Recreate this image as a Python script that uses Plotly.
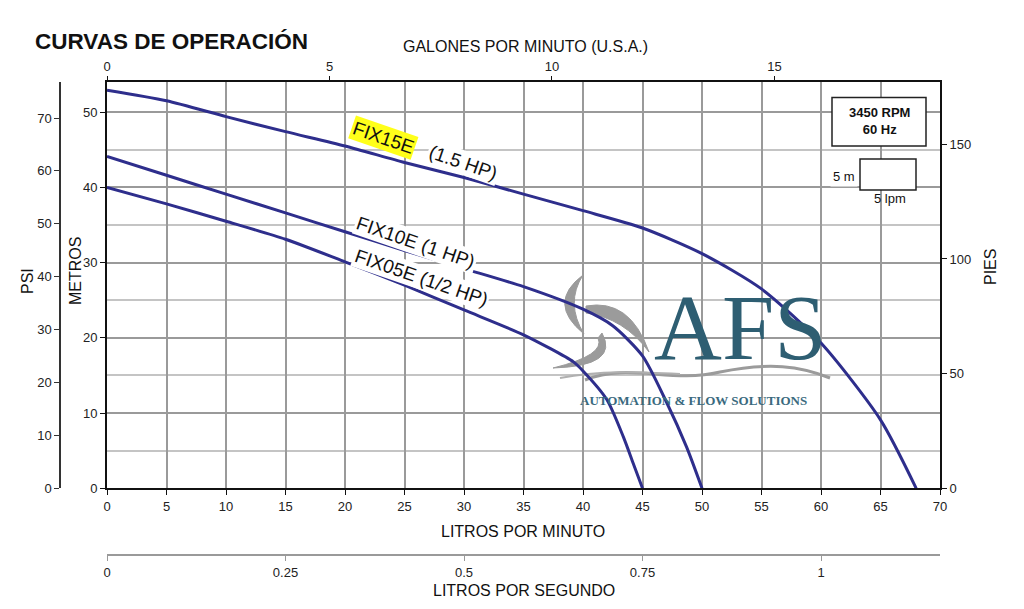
import plotly.graph_objects as go

# ---------------- data ----------------
lpm_15 = [0, 5, 10, 15, 20, 25, 30, 35, 40, 45, 50, 55, 60, 65, 68]
m_15 = [52.9, 51.5, 49.4, 47.4, 45.5, 43.3, 41.3, 39.1, 36.9, 34.6, 31.2, 26.5, 19.3, 9.1, 0]

lpm_10 = [0, 5, 10, 15, 20, 25, 30, 35, 40, 42.5, 45, 47, 48.7, 50]
m_10 = [44.1, 41.6, 39.1, 36.6, 34.1, 31.6, 29.2, 26.8, 23.8, 21.6, 17.6, 11.5, 5.5, 0]

lpm_05 = [0, 5, 10, 15, 20, 25, 30, 35, 39.2, 40, 42, 43.4, 44.2, 45]
m_05 = [40.0, 37.8, 35.5, 33.1, 30.1, 27.0, 23.7, 20.4, 16.8, 15.6, 11.8, 6.8, 3.4, 0]

lpm_ticks = list(range(0, 75, 5))
gpm_ticks = [0, 5, 10, 15]
lps_ticks = [0, 0.25, 0.5, 0.75, 1]
lps_labels = ["0", "0.25", "0.5", "0.75", "1"]
m_ticks = [0, 10, 20, 30, 40, 50]
m_minor = [5, 15, 25, 35, 45]
psi_ticks = [0, 10, 20, 30, 40, 50, 60, 70]
ft_ticks = [0, 50, 100, 150]

LPM_MAX = 70
M_MAX = 54
GPM_MAX = 18.72
LPS_MAX = LPM_MAX / 60
FT_PER_M = 3.28084
PSI_PER_M = 1.42233

# ---------------- layout geometry ----------------
# the page body adds an 8px offset, so the figure is laid out 8px up/left
OFF = 8
W, H = 1024 - OFF, 609 - OFF
ML, MR, MT, MB = 12, 84, 74, 22
PW, PH = W - ML - MR, H - MT - MB

def px(xp):
    return (xp - OFF - ML) / PW

def py(yp):
    return (H - MB - (yp - OFF)) / PH

XDOM = [px(107), 1]
YDOM = [py(488.3), 1]

# pixel -> data (for decorative logo shapes and label placement)
def dx(xp):
    return (xp - 107) / ((940 - 107) / LPM_MAX)

def dy(yp):
    return (488.3 - yp) / ((488.3 - 82) / M_MAX)

def path(cmds):
    out = []
    for c in cmds:
        if c[0] == "Z":
            out.append("Z")
        else:
            nums = c[1:]
            pts = []
            for i in range(0, len(nums), 2):
                pts.append(f"{dx(nums[i]):.3f},{dy(nums[i+1]):.3f}")
            out.append(c[0] + " " + " ".join(pts))
    return " ".join(out)

CURVE = "#2E2E8C"
GRID = "#9a9a9a"
GRID_MINOR = "#c4c4c4"
TICKFONT = dict(family="Liberation Sans Narrow, Arial Narrow, Liberation Sans", size=13, color="#222")
TITLEFONT = dict(family="Liberation Sans, Arial", size=16, color="#111")
LABELFONT = dict(family="Liberation Sans, Arial", size=19, color="#111")

fig = go.Figure()
for xs, ys in [(lpm_15, m_15), (lpm_10, m_10), (lpm_05, m_05)]:
    fig.add_trace(go.Scatter(x=xs, y=ys, mode="lines",
                             line=dict(color=CURVE, width=3, shape="spline", smoothing=0.7),
                             hoverinfo="skip", showlegend=False))

# empty traces so that the secondary unit axes are drawn
for xa, ya in [("x2", "y"), ("x3", "y"), ("x", "y2"), ("x", "y3")]:
    fig.add_trace(go.Scatter(x=[], y=[], xaxis=xa, yaxis=ya, mode="lines",
                             hoverinfo="skip", showlegend=False))

fig.update_layout(
    width=W, height=H,
    margin=dict(l=ML, r=MR, t=MT, b=MB, autoexpand=False),
    paper_bgcolor="white", plot_bgcolor="white",
    showlegend=False,
    xaxis=dict(domain=XDOM, range=[0, LPM_MAX], anchor="y", side="bottom",
               tickvals=lpm_ticks, ticks="outside", ticklen=5, tickcolor="#111",
               showline=True, linecolor="#111", linewidth=2, mirror=True,
               showgrid=True, gridcolor=GRID, gridwidth=1.6, zeroline=False,
               tickfont=TICKFONT),
    xaxis2=dict(domain=XDOM, range=[0, GPM_MAX], overlaying="x", anchor="y", side="top",
                tickvals=gpm_ticks, ticks="outside", ticklen=5, tickcolor="#111",
                showline=False, showgrid=False, zeroline=False, tickfont=TICKFONT),
    xaxis3=dict(domain=XDOM, range=[0, LPS_MAX], overlaying="x", anchor="free",
                position=py(555), side="bottom",
                tickvals=lps_ticks, ticktext=lps_labels, ticks="outside", ticklen=5,
                tickcolor="#999", showline=True, linecolor="#9a9a9a", linewidth=2,
                showgrid=False, zeroline=False, tickfont=TICKFONT),
    yaxis=dict(domain=YDOM, range=[0, M_MAX], anchor="x", side="left",
               tickvals=m_ticks, ticks="outside", ticklen=5, tickcolor="#111",
               showline=True, linecolor="#111", linewidth=2, mirror=True,
               showgrid=True, gridcolor=GRID, gridwidth=1.6, zeroline=False,
               minor=dict(tickvals=m_minor, showgrid=True, gridcolor=GRID_MINOR,
                          gridwidth=1.6, ticks=""),
               tickfont=TICKFONT),
    yaxis2=dict(domain=YDOM, range=[0, M_MAX * FT_PER_M], overlaying="y", anchor="x",
                side="right", tickvals=ft_ticks, ticks="outside", ticklen=6,
                tickcolor="#111", showline=False, showgrid=False, zeroline=False,
                tickfont=TICKFONT),
    yaxis3=dict(domain=YDOM, range=[0, M_MAX * PSI_PER_M], overlaying="y", anchor="free",
                position=px(60), side="left", tickvals=psi_ticks, ticks="outside",
                ticklen=5, tickcolor="#333", showline=True, linecolor="#333",
                linewidth=1.5, showgrid=False, zeroline=False, tickfont=TICKFONT),
)

ann = []
def pa(text, xp, yp, font, xanchor="center", **kw):
    d = dict(text=text, x=px(xp), y=py(yp), xref="paper", yref="paper",
             showarrow=False, font=font, xanchor=xanchor, yanchor="middle")
    d.update(kw)
    ann.append(d)

pa("<b>CURVAS DE OPERACIÓN</b>", 33, 42,
   dict(family="Liberation Sans, Arial", size=22.5, color="#111"), xanchor="left")
pa("GALONES POR MINUTO (U.S.A.)", 525, 47, TITLEFONT)
pa("LITROS POR MINUTO", 523, 531, TITLEFONT)
pa("LITROS POR SEGUNDO", 524, 590, TITLEFONT)
pa("PSI", 27, 281, TITLEFONT, textangle=-90)
pa("METROS", 75, 271, TITLEFONT, textangle=-90)
pa("PIES", 990, 267, TITLEFONT, textangle=-90)

# info boxes
pa("<b>3450 RPM<br>60 Hz</b>", 879, 121,
   dict(family="Liberation Sans, Arial", size=13, color="#111"))
pa("5 m", 858, 176, dict(family="Liberation Sans, Arial", size=13, color="#111"),
   xanchor="right", bgcolor="white", borderpad=2)
pa("5 lpm", 890, 198, dict(family="Liberation Sans, Arial", size=13, color="#111"))

# logo text
pa("AFS", 740, 327, dict(family="Liberation Serif, Times New Roman", size=94, color="#2E5E72"))
pa("<b>AUTOMATION &amp; FLOW SOLUTIONS</b>", 693, 400,
   dict(family="Liberation Serif, Times New Roman", size=13, color="#3A6A7E"))

# curve labels (data coords)
def da(text, x, y, **kw):
    d = dict(text=text, x=x, y=y, xref="x", yref="y", showarrow=False,
             font=LABELFONT, textangle=19, borderpad=1,
             xanchor="center", yanchor="middle")
    d.update(kw)
    ann.append(d)

da("FIX15E", dx(383), dy(137), bgcolor="#FFFF1A")
da("(1.5 HP)", dx(463), dy(162), bgcolor="white")
da("FIX10E (1 HP)", dx(416), dy(242), bgcolor="white")
da("FIX05E (1/2 HP)", dx(421), dy(277), bgcolor="white")

fig.update_layout(annotations=ann)

shapes = []
# info box rectangles
shapes.append(dict(type="rect", xref="paper", yref="paper",
                   x0=px(832), x1=px(926), y0=py(146), y1=py(97.5),
                   line=dict(color="#222", width=1.5), fillcolor="white", layer="above"))
shapes.append(dict(type="rect", xref="x", yref="y",
                   x0=dx(860), x1=dx(916), y0=dy(190), y1=dy(159),
                   line=dict(color="#222", width=1.5), fillcolor="white", layer="above"))

# logo swirl (decorative)
GRAYL = "#9b9b9b"
swirl = [
    [("M", 583, 275), ("Q", 546, 303, 584, 334), ("Q", 565, 303, 583, 275), ("Z",)],
    [("M", 586, 306), ("Q", 630, 298, 649, 352), ("Q", 624, 318, 586, 313), ("Z",)],
    [("M", 602, 333), ("Q", 620, 366, 553, 368), ("Q", 606, 355, 598, 338), ("Z",)],
]
for s in swirl:
    shapes.append(dict(type="path", xref="x", yref="y", path=path(s),
                       fillcolor=GRAYL, line=dict(color=GRAYL, width=1), layer="between"))
shapes.append(dict(type="path", xref="x", yref="y",
                   path=path([("M", 585, 380), ("C", 630, 362, 670, 384, 720, 372),
                              ("C", 770, 362, 800, 366, 830, 378)]),
                   line=dict(color=GRAYL, width=3), layer="between"))
shapes.append(dict(type="path", xref="x", yref="y",
                   path=path([("M", 560, 378), ("C", 600, 370, 640, 372, 680, 374)]),
                   line=dict(color="#b0b0b0", width=2), layer="between"))

fig.update_layout(shapes=shapes)

fig.write_html("out.html", config={"displayModeBar": False})
